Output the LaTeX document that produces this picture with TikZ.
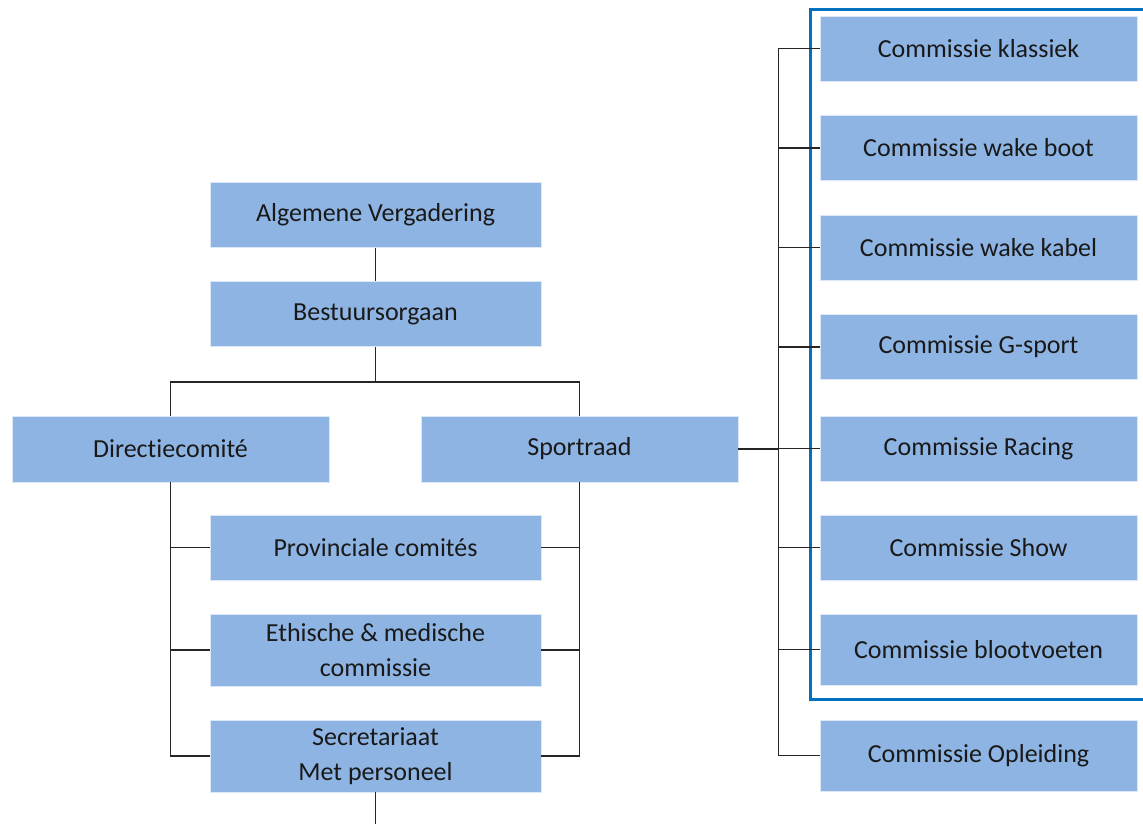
\documentclass[tikz,border=0pt]{standalone}
\usepackage{fontspec}
\setmainfont{Carlito}[Ligatures=NoCommon]
\definecolor{boxblue}{HTML}{8EB4E3}
\definecolor{framblue}{HTML}{0070C0}
\begin{document}
\begin{tikzpicture}[x=1pt,y=-1pt,
	box/.style={fill=boxblue, draw=white!70!boxblue, line width=0.6pt, minimum width=331pt, minimum height=65pt, inner sep=0pt, align=center, text=black!90, font=\fontsize{26}{35}\selectfont},
	sbox/.style={box, minimum width=317pt},
	link/.style={draw=black!85, line width=1.4pt}]
		\useasboundingbox (0,0) rectangle (1143,823);
		\draw[framblue, line width=3pt] (1160,9) -- (810,9) -- (810,699) -- (1160,699);
		\node[box] (av) at (375.5,215) {Algemene Vergadering};
		\node[box] (bo) at (375.5,314) {Bestuursorgaan};
		\node[sbox, minimum height=66pt] (dc) at (170.5,449) {Directiecomité};
		\node[sbox, minimum height=66pt] (sr) at (579.5,449) {Sportraad};
		\node[box] (pc) at (375.5,547.5) {Provinciale comités};
		\node[box, minimum height=72pt] (em) at (375.5,650) {Ethische \& medische\\commissie};
		\node[box, minimum height=72pt] (se) at (375.5,756) {Secretariaat\\Met personeel};
		\foreach \nm/\y/\txt in {kk/48.5/klassiek, wb/148/wake boot, wk/247.5/wake kabel, gs/347/G-sport, ra/448.5/Racing, sh/547.5/Show}
			\node[sbox] (\nm) at (978.5,\y) {Commissie \txt};
		\node[sbox, minimum height=71pt] (bv) at (978.5,649.5) {Commissie blootvoeten};
		\node[sbox, minimum height=71pt] (op) at (978.5,755.5) {Commissie Opleiding};
		\draw[link] (av) -- (bo);
		\draw[link] (bo.south) -- ++(0,35) coordinate (j);
		\draw[link] (j) -| (dc.north);
		\draw[link] (j) -| (sr.north);
		\draw[link] (dc.south) |- (se.west);
		\draw[link] (dc.south |- pc.west) -- (pc.west);
		\draw[link] (dc.south |- em.west) -- (em.west);
		\draw[link] (sr.south) |- (se.east);
		\draw[link] (sr.south |- pc.east) -- (pc.east);
		\draw[link] (sr.south |- em.east) -- (em.east);
		\draw[link] (se.south) -- ++(0,40);
		\draw[link] (kk.west) -- ++(-41,0) coordinate (t) |- (op.west);
		\foreach \nm in {wb,wk,gs,ra,sh,bv}
			\draw[link] (\nm.west) -- (\nm.west -| t);
		\draw[link] (sr.east) -- (sr.east -| t);
	\end{tikzpicture}
\end{document}
